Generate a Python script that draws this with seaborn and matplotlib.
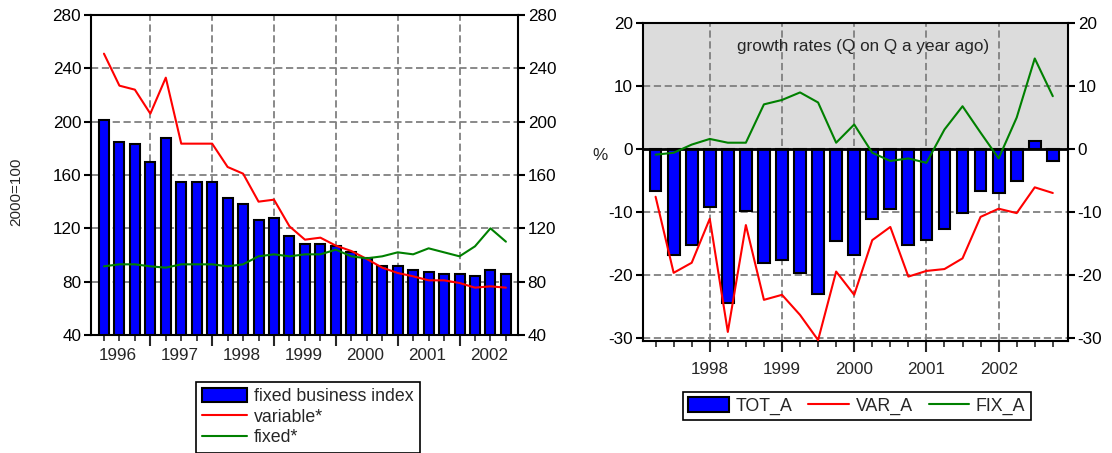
import matplotlib
matplotlib.use("Agg")
import matplotlib.pyplot as plt
import matplotlib.transforms as mtransforms
from matplotlib.patches import Patch
from matplotlib.lines import Line2D
import numpy as np
import pandas as pd
import seaborn as sns

sns.set_theme(style="ticks")
plt.rcParams["font.family"] = ["Liberation Sans", "DejaVu Sans"]
plt.rcParams["axes.unicode_minus"] = False

# ---- index levels (2000=100), quarterly 1996Q1-2002Q3 ----
quarters_idx = [f"{y}Q{q}" for y in range(1996, 2003) for q in range(1, 5)][:27]
index_fixed_business = [201, 185, 183, 170, 188, 155, 155, 155, 143, 138, 126, 128,
                        114, 108, 108, 106.5, 102, 98, 91.5, 91.5, 89, 87, 85.5, 85.5,
                        84, 89, 85.5]
index_variable = [251, 227, 224, 206, 233, 183.5, 183.5, 183.5, 166, 161, 140, 141.5,
                  121.5, 111.5, 113, 107, 103, 97, 90.5, 86.5, 84, 81, 81, 79,
                  75.5, 76.5, 75.5]
index_fixed = [91.5, 93, 93, 91.5, 90.5, 93, 93, 93, 91.5, 93, 99, 100.5,
               99, 100.5, 100.5, 104, 99, 97.5, 99, 102, 100.5, 105, 102, 99,
               106.5, 120, 110]
years_idx = ["1996", "1997", "1998", "1999", "2000", "2001", "2002"]
yticks_idx = [40, 80, 120, 160, 200, 240, 280]

# ---- growth rates (% on same quarter a year ago), 1997Q2-2002Q4 ----
quarters_gr = [f"{y}Q{q}" for y in range(1997, 2003) for q in range(1, 5)][1:]
tot_a = [-6.7, -16.9, -15.3, -9.3, -24.5, -9.9, -18.2, -17.6, -19.8, -23.0, -14.7,
         -16.9, -11.2, -9.6, -15.3, -14.4, -12.8, -10.2, -6.7, -7.0, -5.1, 1.3, -1.9]
var_a = [-7.6, -19.7, -18.1, -11.1, -29.1, -12.1, -24.0, -23.2, -26.4, -30.4, -19.5,
         -23.2, -14.5, -12.4, -20.3, -19.4, -19.1, -17.4, -10.8, -9.5, -10.2, -6.1, -7.0]
fix_a = [-0.9, -0.6, 0.7, 1.6, 1.0, 1.0, 7.1, 7.8, 9.0, 7.4, 1.0,
         3.9, -0.6, -1.9, -1.5, -2.2, 3.1, 6.8, 2.6, -1.5, 5.0, 14.4, 8.4]
years_gr = ["1998", "1999", "2000", "2001", "2002"]
yticks_gr = [-30, -20, -10, 0, 10, 20]

BLUE = "#0000FF"
RED = "#FF0000"
GREEN = "#008000"
GRID = "#808080"
FS = 12.3

fig = plt.figure(figsize=(11.12, 4.53), dpi=100)
ax1 = fig.add_axes([0.0818, 0.2605, 0.3840, 0.7064])
ax2 = fig.add_axes([0.5782, 0.2479, 0.3822, 0.7007])


def style_axes(ax):
    for s in ax.spines.values():
        s.set_visible(True)
        s.set_color("black")
        s.set_linewidth(1.5)
    ax.set_axisbelow(True)
    ax.grid(True, which="major", linestyle=(0, (4, 2)), color=GRID, linewidth=1.3)
    ax.tick_params(axis="y", which="major", left=True, right=True,
                   labelleft=True, labelright=True, direction="out",
                   length=5, width=1.5, pad=2, labelsize=FS, colors="black")
    ax.tick_params(axis="x", which="major", bottom=True, top=False,
                   direction="out", length=8, width=1.5, labelsize=FS)
    ax.tick_params(axis="x", which="minor", bottom=True, top=False,
                   direction="out", length=4, width=1.2)
    ax.set_xlabel("")
    ax.set_ylabel("")


# ---------- left panel: index levels ----------
df_idx = pd.DataFrame({"quarter": quarters_idx, "value": index_fixed_business})
sns.barplot(data=df_idx, x="quarter", y="value", order=quarters_idx, color=BLUE,
            saturation=1, width=0.65, edgecolor="black", linewidth=1.5, ax=ax1)
pos_idx = np.arange(len(quarters_idx))
ax1.plot(pos_idx, index_variable, color=RED, lw=1.5, zorder=3)
ax1.plot(pos_idx, index_fixed, color=GREEN, lw=1.5, zorder=3)
ax1.set_xlim(-0.84, 26.78)
ax1.set_ylim(40, 280)
ax1.set_yticks(yticks_idx)
ax1.set_xticks(pos_idx[3::4], labels=[""] * len(pos_idx[3::4]))
ax1.set_xticks(pos_idx, minor=True)
style_axes(ax1)
ax1.grid(False, which="minor")
trans1 = mtransforms.blended_transform_factory(ax1.transData, ax1.transAxes)
for k, yr in enumerate(years_idx):
    ax1.text(4 * k + 0.9, -0.042, yr, transform=trans1, ha="center", va="top",
             fontsize=FS)
fig.text(0.0145, 1 - 192 / 453, "2000=100", rotation=90, ha="center",
         va="center", fontsize=11)

leg1 = fig.legend(
    handles=[Patch(facecolor=BLUE, edgecolor="black", linewidth=1.5),
             Line2D([], [], color=RED, lw=1.5),
             Line2D([], [], color=GREEN, lw=1.5)],
    labels=["fixed business index", "variable*", "fixed*"],
    loc="upper left", bbox_to_anchor=(196 / 1112, 1 - 382 / 453),
    borderaxespad=0, fontsize=12.8, frameon=True, fancybox=False, framealpha=1,
    edgecolor="black", borderpad=0.35, labelspacing=0.18, handlelength=2.5,
    handleheight=0.85, handletextpad=0.4)
leg1.get_frame().set_linewidth(1.2)

# ---------- right panel: growth rates ----------
df_gr = pd.DataFrame({"quarter": quarters_gr, "value": tot_a})
ax2.axhspan(0, 20, color="#DCDCDC", zorder=0)
sns.barplot(data=df_gr, x="quarter", y="value", order=quarters_gr, color=BLUE,
            saturation=1, width=0.65, edgecolor="black", linewidth=1.5, ax=ax2)
pos_gr = np.arange(len(quarters_gr))
ax2.axhline(0, color="black", lw=2, zorder=2.5)
ax2.plot(pos_gr, var_a, color=RED, lw=1.5, zorder=3)
ax2.plot(pos_gr, fix_a, color=GREEN, lw=1.5, zorder=3)
ax2.set_xlim(-0.70, 22.84)
ax2.set_ylim(-30.5, 20)
ax2.set_yticks(yticks_gr)
ax2.set_xticks(pos_gr[3::4], labels=years_gr)
ax2.set_xticks(pos_gr, minor=True)
style_axes(ax2)
ax2.tick_params(axis="x", which="major", pad=7)
ax2.grid(False, which="minor")
ax2.text(0.518, 0.928, "growth rates (Q on Q a year ago)", transform=ax2.transAxes,
         ha="center", va="center", fontsize=FS)
fig.text(600 / 1112, 1 - 155 / 453, "%", ha="center", va="center", fontsize=FS)

leg2 = fig.legend(
    handles=[Patch(facecolor=BLUE, edgecolor="black", linewidth=1.5),
             Line2D([], [], color=RED, lw=1.5),
             Line2D([], [], color=GREEN, lw=1.5)],
    labels=["TOT_A", "VAR_A", "FIX_A"], ncol=3,
    loc="upper left", bbox_to_anchor=(683 / 1112, 1 - 392 / 453),
    borderaxespad=0, fontsize=12.8, frameon=True, fancybox=False, framealpha=1,
    edgecolor="black", borderpad=0.3, handlelength=2.3, handleheight=0.85,
    handletextpad=0.35, columnspacing=0.9)
leg2.get_frame().set_linewidth(1.2)

fig.savefig("out.png", dpi=100)
